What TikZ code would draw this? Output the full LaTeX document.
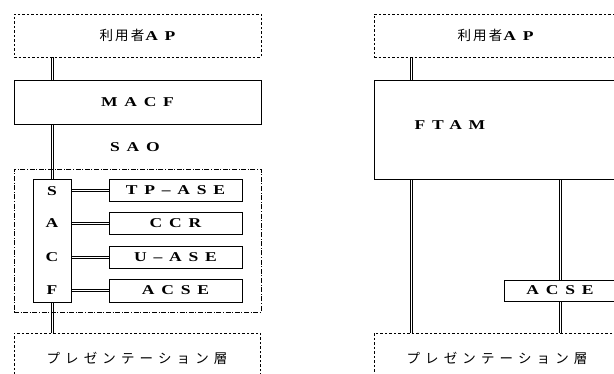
\documentclass[tikz,border=0pt]{standalone}
\usepackage{fontspec}
\setmainfont{Liberation Serif}
\newfontfamily\latf[FakeStretch=1.3,LetterSpace=50]{Liberation Serif}
\newfontfamily\jpk[LetterSpace=16]{Noto Sans CJK JP}
\newfontfamily\jpw[LetterSpace=38]{Noto Sans CJK JP}
\newcommand\LT[1]{{\fontsize{13.5}{15}\selectfont\latf\bfseries #1}}
\newcommand\JK[1]{{\fontsize{13.5}{15}\selectfont\jpk #1}\kern1pt}
\newcommand\JW[1]{{\fontsize{13.5}{15}\selectfont\jpw #1}}
\begin{document}
\begin{tikzpicture}[x=1pt,y=-1pt,
  solidbox/.style={draw, line width=0.9pt, fill=white, inner sep=0pt},
  dashbox/.style={draw, line width=0.7pt, dash pattern=on 2.5pt off 2pt, inner sep=0pt},
  dashdotbox/.style={draw, line width=0.7pt, dash pattern=on 5pt off 1.6pt on 1pt off 1.6pt, inner sep=0pt},
  vdbl/.style={postaction={draw, line width=0.7pt, transform canvas={xshift=-1.1pt}},
               postaction={draw, line width=0.7pt, transform canvas={xshift=1.1pt}}},
  hdbl/.style={postaction={draw, line width=0.7pt, transform canvas={yshift=-1.1pt}},
               postaction={draw, line width=0.7pt, transform canvas={yshift=1.1pt}}},
  lbl/.style={inner sep=0pt}]
\useasboundingbox (0,0) rectangle (614,374);
\begin{scope}
\clip (0,0) rectangle (614,374);
% ---------- left ----------
\node[dashbox, minimum width=247pt, minimum height=43pt] (ap1) at (137.5,35.5) {\JK{利用者}\LT{AP}};
\node[solidbox, minimum width=247pt, minimum height=44pt] (macf) at (137.5,102) {\LT{MACF}};
\node[lbl] (sao) at (135,147) {\LT{SAO}};
\node[dashdotbox, minimum width=247pt, minimum height=143pt] (cont) at (137.5,240.5) {};
\node[solidbox, minimum width=38pt, minimum height=123pt] (sacf) at (52,240.5) {};
\node[lbl] (s) at (52,191) {\LT{S}};
\node[lbl] (a) at (52,223) {\LT{A}};
\node[lbl] (c) at (52,257) {\LT{C}};
\node[lbl] (f) at (52,290.5) {\LT{F}};
\node[solidbox, minimum width=133pt, minimum height=22pt] (tp) at (175.5,190) {\LT{TP–ASE}};
\node[solidbox, minimum width=133pt, minimum height=22pt] (ccr) at (175.5,223) {\LT{CCR}};
\node[solidbox, minimum width=133pt, minimum height=22pt] (uase) at (175.5,257) {\LT{U–ASE}};
\node[solidbox, minimum width=133pt, minimum height=23pt] (acse1) at (175.5,290.5) {\LT{ACSE}};
\node[dashbox, minimum width=246pt, minimum height=67pt] (pres1) at (137,366.5) {};
\node[lbl] (pres1t) at (137,358) {\JW{プレゼンテーション層}};
\path[vdbl] (sacf |- ap1.south) -- (sacf |- macf.north);
\path[vdbl] (sacf |- macf.south) -- (sacf.north);
\path[vdbl] (sacf.south) -- (sacf |- pres1.north);
\path[hdbl] (sacf.east |- tp) -- (tp.west);
\path[hdbl] (sacf.east |- ccr) -- (ccr.west);
\path[hdbl] (sacf.east |- uase) -- (uase.west);
\path[hdbl] (sacf.east |- acse1) -- (acse1.west);
% ---------- right ----------
\coordinate (r1) at (411,0);
\coordinate (r2) at (560,0);
\node[dashbox, minimum width=243pt, minimum height=43pt] (ap2) at (495.5,35.5) {\JK{利用者}\LT{AP}};
\node[solidbox, minimum width=243pt, minimum height=99pt] (ftam) at (495.5,129.5) {};
\node[lbl] (ftamt) at (450,125) {\LT{FTAM}};
\node[dashbox, minimum width=243pt, minimum height=67pt] (pres2) at (495.5,366.5) {};
\node[lbl] (pres2t) at (497,358) {\JW{プレゼンテーション層}};
\path[vdbl] (r1 |- ap2.south) -- (r1 |- ftam.north);
\path[vdbl] (r1 |- ftam.south) -- (r1 |- pres2.north);
\path[vdbl] (r2 |- ftam.south) -- (r2 |- pres2.north);
\node[solidbox, minimum width=112pt, minimum height=21pt] (acse2) at (560,290.5) {\LT{ACSE}};
\end{scope}
\end{tikzpicture}
\end{document}
